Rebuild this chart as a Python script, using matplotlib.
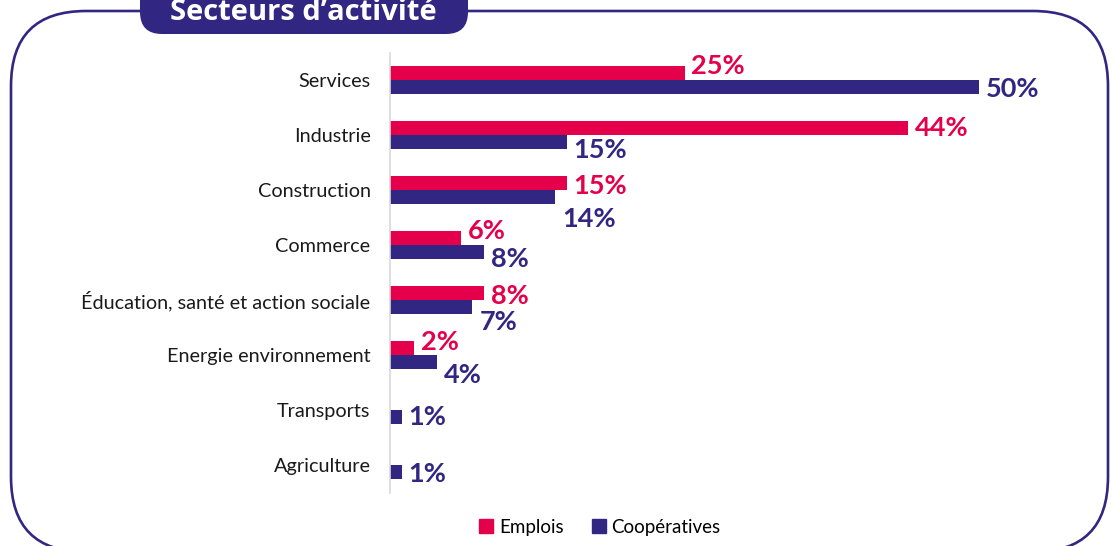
import matplotlib.pyplot as plt
from matplotlib.patches import FancyBboxPatch, Patch

plt.rcParams['font.family'] = ['Lato', 'DejaVu Sans']

# Data
categories = ['Services', 'Industrie', 'Construction', 'Commerce',
              'Éducation, santé et action sociale', 'Energie environnement',
              'Transports', 'Agriculture']
emplois = [25, 44, 15, 6, 8, 2, 0, 0]
cooperatives = [50, 15, 14, 8, 7, 4, 1, 1]
series_names = ['Emplois', 'Coopératives']

# label vertical nudges (pixels, positive = down)
emplois_dy = [-7, 0, 3, -7, 3, -6, 0, 0]
coop_dy = [2, 8, 22, 7, 15, 13, 0, 2]

PINK = '#E4004B'
BLUE = '#312783'

W, H = 1115, 546
fig = plt.figure(figsize=(W / 100, H / 100), dpi=100)

# background overlay in pixel coordinates (y up) for frame and title
bg = fig.add_axes([0, 0, 1, 1])
bg.set_xlim(0, W)
bg.set_ylim(0, H)
bg.axis('off')
frame = FancyBboxPatch((11, H - 552), 1097, 541, boxstyle='round,pad=0,rounding_size=75',
                       fc='none', ec=BLUE, lw=1.9)
bg.add_patch(frame)
pill = FancyBboxPatch((140, H - 34), 328, 64, boxstyle='round,pad=0,rounding_size=22',
                      fc=BLUE, ec='none')
bg.add_patch(pill)
bg.text(303, H - 20, 'Secteurs d’activité', color='white', fontsize=21, fontweight='bold',
        family=['Open Sans', 'DejaVu Sans'], ha='center', va='baseline')

# main axes
left, right = 390, 1000
top, bottom = 52.5, 492.5
ax = fig.add_axes([left / W, 1 - bottom / H, (right - left) / W, (bottom - top) / H])
px_per_unit = 11.78
ax.set_xlim(0, (right - left) / px_per_unit)
ax.set_ylim(len(categories) - 0.5, -0.5)

h = 0.255
ys = list(range(len(categories)))
ax.barh([y - h / 2 for y in ys], emplois, height=h, color=PINK, label=series_names[0])
ax.barh([y + h / 2 for y in ys], cooperatives, height=h, color=BLUE, label=series_names[1])

for y, v, dy in zip(ys, emplois, emplois_dy):
    if v > 0:
        ax.annotate(f'{v}%', (v, y - h / 2), xytext=(5, -dy * 0.72), textcoords='offset points',
                    ha='left', va='center', color=PINK, fontsize=19.5, fontweight='bold')
for y, v, dy in zip(ys, cooperatives, coop_dy):
    ax.annotate(f'{v}%', (v, y + h / 2), xytext=(5, -dy * 0.72), textcoords='offset points',
                ha='left', va='center', color=BLUE, fontsize=19.5, fontweight='bold')

ax.set_yticks(ys)
ax.set_yticklabels(categories, fontsize=14.3, color='#1a1a1a')
ax.tick_params(axis='y', length=0, pad=14)
ax.set_xticks([])
for s in ['top', 'right', 'bottom']:
    ax.spines[s].set_visible(False)
ax.spines['left'].set_color('#d9d9d9')
ax.spines['left'].set_linewidth(1.2)
ax.patch.set_alpha(0)

handles = [Patch(color=PINK, label=series_names[0]), Patch(color=BLUE, label=series_names[1])]
fig.legend(handles=handles, loc='center', bbox_to_anchor=(600 / W, 1 - 527 / H), ncol=2,
           frameon=False, fontsize=13.5, handlelength=0.75, handleheight=0.75,
           handletextpad=0.3, columnspacing=1.5)

fig.savefig('out.png', dpi=100)
